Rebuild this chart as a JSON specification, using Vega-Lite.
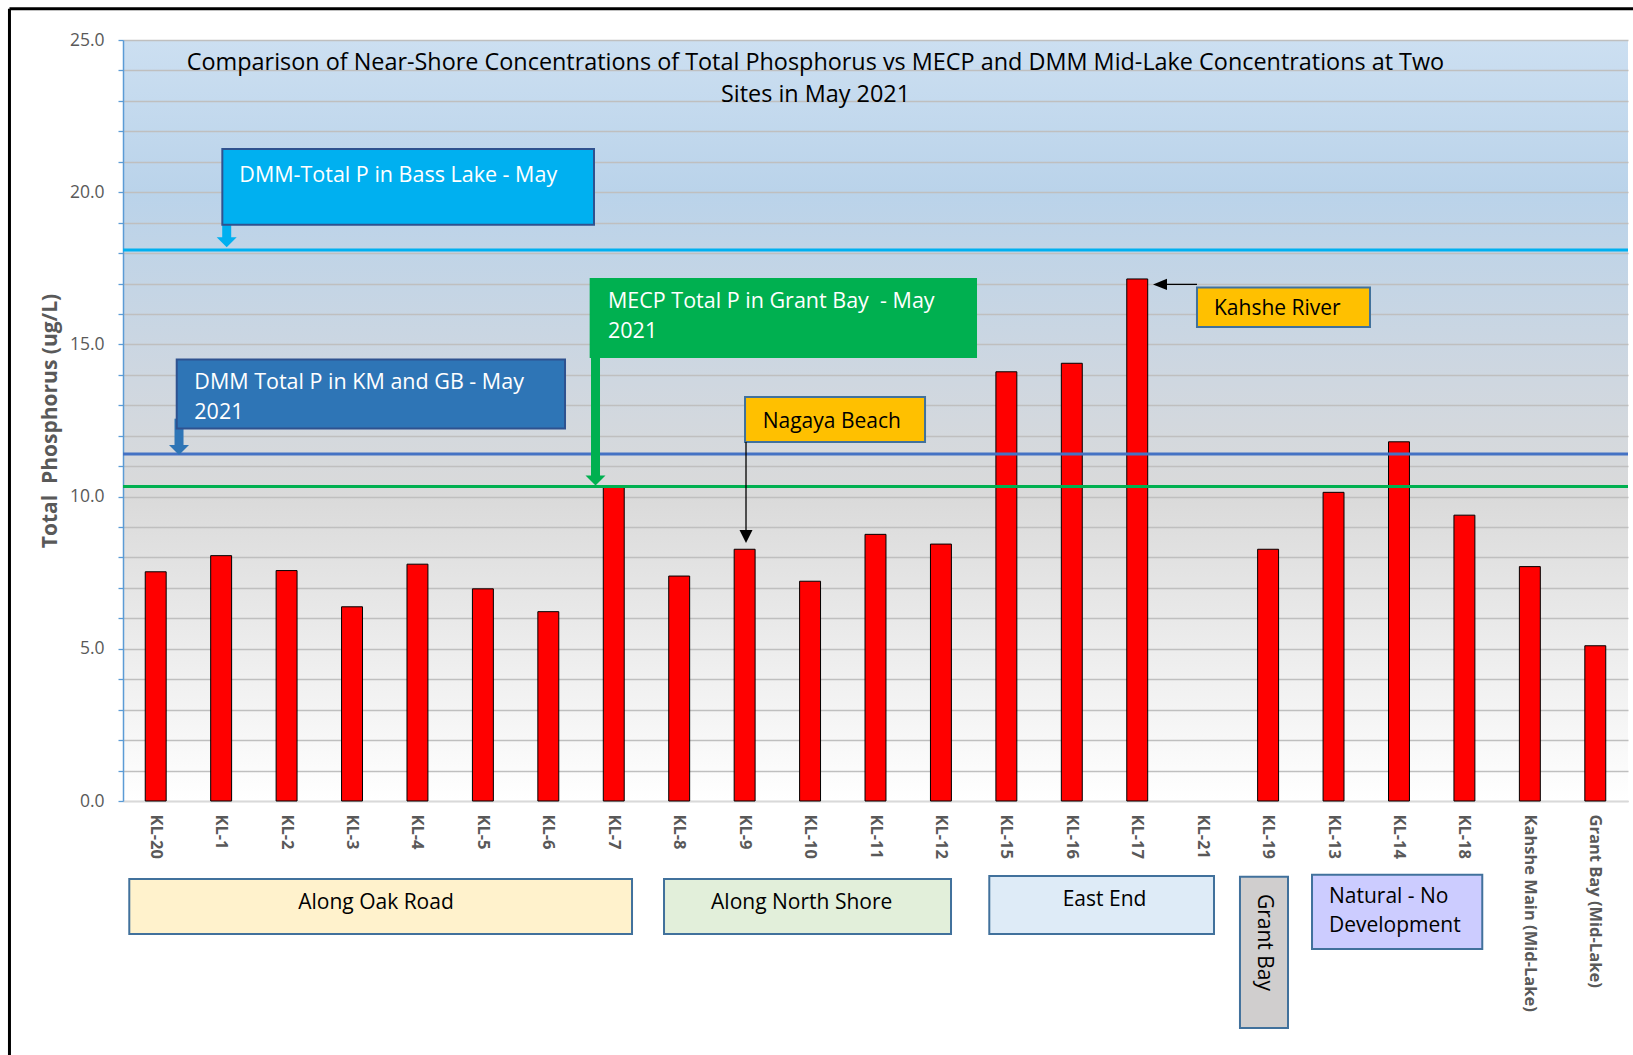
{
  "$schema": "https://vega.github.io/schema/vega-lite/v6.json",
  "width": 1505,
  "height": 761,
  "autosize": {"type": "none"},
  "padding": {"left": 123, "top": 40, "right": 5, "bottom": 254},
  "background": "white",
  "config": {"view": {"stroke": null}, "font": "Open Sans"},
  "view": {
    "stroke": null,
    "fill": {
      "gradient": "linear", "x1": 0, "y1": 0, "x2": 0, "y2": 1,
      "stops": [
        {"offset": 0, "color": "#CCDFF1"},
        {"offset": 0.2, "color": "#BAD3EA"},
        {"offset": 0.45, "color": "#CFD7E0"},
        {"offset": 0.6, "color": "#DADADA"},
        {"offset": 1, "color": "#FFFFFF"}
      ]
    }
  },
  "title": {
    "text": ["Comparison of Near-Shore Concentrations of Total Phosphorus vs MECP and DMM Mid-Lake Concentrations at Two", "Sites in May 2021"],
    "font": "Open Sans", "fontSize": 23.4, "fontWeight": "normal", "color": "#000000",
    "anchor": "middle", "frame": "group", "baseline": "top", "offset": 0, "dx": -60, "dy": 100, "lineHeight": 32
  },
  "datasets": {
    "bars": [
      {"site": "KL-20", "tp": 7.53},
      {"site": "KL-1", "tp": 8.06},
      {"site": "KL-2", "tp": 7.57},
      {"site": "KL-3", "tp": 6.38},
      {"site": "KL-4", "tp": 7.78},
      {"site": "KL-5", "tp": 6.97},
      {"site": "KL-6", "tp": 6.22},
      {"site": "KL-7", "tp": 10.3},
      {"site": "KL-8", "tp": 7.39},
      {"site": "KL-9", "tp": 8.27},
      {"site": "KL-10", "tp": 7.22},
      {"site": "KL-11", "tp": 8.76},
      {"site": "KL-12", "tp": 8.44},
      {"site": "KL-15", "tp": 14.1},
      {"site": "KL-16", "tp": 14.38},
      {"site": "KL-17", "tp": 17.15},
      {"site": "KL-21", "tp": null},
      {"site": "KL-19", "tp": 8.27},
      {"site": "KL-13", "tp": 10.14},
      {"site": "KL-14", "tp": 11.8},
      {"site": "KL-18", "tp": 9.39},
      {"site": "Kahshe Main (Mid-Lake)", "tp": 7.7},
      {"site": "Grant Bay (Mid-Lake)", "tp": 5.1}
    ],
    "refs": [
      {"ref": "DMM-Total P in Bass Lake - May", "tp": 18.1},
      {"ref": "DMM Total P in KM and GB - May 2021", "tp": 11.4},
      {"ref": "MECP Total P in Grant Bay - May 2021", "tp": 10.33}
    ],
    "boxes": [
      {"id": "bass", "x": 1.518, "x2": 7.198, "y": 21.42, "y2": 18.93},
      {"id": "kmgb", "x": 0.821, "x2": 6.755, "y": 14.5, "y2": 12.24},
      {"id": "mecp", "x": 7.147, "x2": 13.036, "y": 17.15, "y2": 14.59},
      {"id": "nagaya", "x": 9.506, "x2": 12.257, "y": 13.27, "y2": 11.79},
      {"id": "kahshe", "x": 16.413, "x2": 19.057, "y": 16.87, "y2": 15.57},
      {"id": "oak", "x": 0.096, "x2": 7.779, "y": -2.562, "y2": -4.369},
      {"id": "north", "x": 8.268, "x2": 12.654, "y": -2.562, "y2": -4.369},
      {"id": "east", "x": 13.239, "x2": 16.673, "y": -2.464, "y2": -4.369},
      {"id": "grant", "x": 17.07, "x2": 17.804, "y": -2.487, "y2": -7.457},
      {"id": "natural", "x": 18.171, "x2": 20.773, "y": -2.421, "y2": -4.862}
    ],
    "wtext": [
      {"t": "DMM-Total P in Bass Lake - May", "x": 1.777, "y": 20.54},
      {"t": ["DMM Total P in KM and GB - May", "2021"], "x": 1.09, "y": 13.72},
      {"t": ["MECP Total P in Grant Bay \u00a0- May", "2021"], "x": 7.412, "y": 16.38}
    ],
    "ltext": [
      {"t": "Nagaya Beach", "x": 9.776, "y": 12.46},
      {"t": "Kahshe River", "x": 16.673, "y": 16.17},
      {"t": ["Natural - No", "Development"], "x": 18.43, "y": -3.16}
    ],
    "ctext": [
      {"t": "Along Oak Road", "x": 3.866, "y": -3.341},
      {"t": "Along North Shore", "x": 10.372, "y": -3.341},
      {"t": "East End", "x": 15.0, "y": -3.25}
    ],
    "rtext": [
      {"t": "Grant Bay", "x": 17.437, "y": -4.648}
    ],
    "shafts": [
      {"id": "bass", "x": 1.585, "y": 18.93, "y2": 18.45},
      {"id": "kmgb", "x": 0.856, "y": 12.56, "y2": 11.62},
      {"id": "mecp", "x": 7.221, "y": 14.59, "y2": 10.62}
    ],
    "heads": [
      {"id": "bass", "x": 1.585, "y": 18.354},
      {"id": "kmgb", "x": 0.856, "y": 11.53},
      {"id": "mecp", "x": 7.221, "y": 10.53}
    ],
    "pointers": [
      {"x": 9.521, "x2": 9.521, "y": 11.79, "y2": 8.8},
      {"x": 15.848, "x2": 16.413, "y": 16.97, "y2": 16.97}
    ],
    "downtips": [{"x": 9.521, "y": 8.69}],
    "lefttips": [{"x": 15.848, "y": 16.97}],
    "frame": [
      {"x": -1.735, "x2": 23.1, "y": 26.03, "y2": 26.03},
      {"x": -1.735, "x2": -1.735, "y": 26.03, "y2": -8.6}
    ]
  },
  "layer": [
    {
      "data": {"name": "bars"},
      "mark": {"type": "bar", "color": "#FF0000", "stroke": "#000000", "strokeWidth": 1},
      "encoding": {
        "x": {
          "field": "site", "type": "nominal", "sort": null,
          "scale": {
            "domain": ["KL-20", "KL-1", "KL-2", "KL-3", "KL-4", "KL-5", "KL-6", "KL-7", "KL-8", "KL-9", "KL-10", "KL-11", "KL-12", "KL-15", "KL-16", "KL-17", "KL-21", "KL-19", "KL-13", "KL-14", "KL-18", "Kahshe Main (Mid-Lake)", "Grant Bay (Mid-Lake)"],
            "paddingInner": 0.68, "paddingOuter": 0.34
          },
          "axis": {
            "title": null, "labelAngle": 90, "labelAlign": "left", "labelBaseline": "middle",
            "ticks": false, "domainColor": "#D9D9D9", "domainWidth": 1.5, "labelPadding": 13,
            "labelColor": "#595959", "labelFont": "Open Sans", "labelFontSize": 16.5, "labelFontWeight": "bold",
            "grid": false, "labelLimit": 0, "labelOverlap": false
          }
        },
        "y": {
          "field": "tp", "type": "quantitative",
          "scale": {"domain": [0, 25], "nice": false},
          "axis": {
            "values": [0,1,2,3,4,5,6,7,8,9,10,11,12,13,14,15,16,17,18,19,20,21,22,23,24,25],
            "labelExpr": "datum.value % 5 === 0 ? format(datum.value, '.1f') : ''",
            "labelOverlap": false,
            "grid": true, "gridColor": "#BFBFBF", "gridWidth": 1.3,
            "tickColor": "#5B9BD5", "tickSize": 5, "tickWidth": 1.3,
            "domainColor": "#5B9BD5", "domainWidth": 1.5,
            "labelColor": "#595959", "labelFont": "Open Sans", "labelFontSize": 17.5, "labelPadding": 14,
            "title": "Total \u00a0Phosphorus (ug/L)", "titleFont": "Open Sans", "titleFontSize": 21,
            "titleFontWeight": "bold", "titleColor": "#595959", "titlePadding": 9
          }
        }
      }
    },
    {
      "data": {"name": "refs"},
      "mark": {"type": "rule", "strokeWidth": 3},
      "encoding": {
        "y": {"field": "tp", "type": "quantitative", "scale": {"domain": [0, 25], "nice": false}, "axis": null},
        "color": {
          "field": "ref", "type": "nominal", "legend": null,
          "scale": {"domain": ["DMM-Total P in Bass Lake - May", "DMM Total P in KM and GB - May 2021", "MECP Total P in Grant Bay - May 2021"], "range": ["#00B0F0", "#4472C4", "#00B050"]}
        }
      }
    },
    {
      "data": {"name": "frame"},
      "mark": {"type": "rule", "strokeWidth": 3, "color": "#000000"},
      "encoding": {
        "x": {"field": "x", "type": "quantitative", "scale": {"domain": [0, 23], "nice": false, "zero": false}, "axis": null},
        "x2": {"field": "x2"},
        "y": {"field": "y", "type": "quantitative", "scale": {"domain": [0, 25], "nice": false}, "axis": null},
        "y2": {"field": "y2"}
      }
    },
    {
      "data": {"name": "shafts"},
      "mark": {"type": "rule", "strokeWidth": 9},
      "encoding": {
        "x": {"field": "x", "type": "quantitative", "scale": {"domain": [0, 23], "nice": false, "zero": false}, "axis": null},
        "y": {"field": "y", "type": "quantitative", "scale": {"domain": [0, 25], "nice": false}, "axis": null},
        "y2": {"field": "y2"},
        "color": {"field": "id", "type": "nominal", "legend": null, "scale": {"domain": ["bass", "kmgb", "mecp"], "range": ["#00B0F0", "#2E75B6", "#00B050"]}}
      }
    },
    {
      "data": {"name": "heads"},
      "mark": {"type": "point", "filled": true, "opacity": 1, "size": 400, "shape": "M-1,-0.5L1,-0.5L0,0.5Z"},
      "encoding": {
        "x": {"field": "x", "type": "quantitative", "scale": {"domain": [0, 23], "nice": false, "zero": false}, "axis": null},
        "y": {"field": "y", "type": "quantitative", "scale": {"domain": [0, 25], "nice": false}, "axis": null},
        "color": {"field": "id", "type": "nominal", "legend": null, "scale": {"domain": ["bass", "kmgb", "mecp"], "range": ["#00B0F0", "#2E75B6", "#00B050"]}}
      }
    },
    {
      "data": {"name": "boxes"},
      "mark": {"type": "rect", "strokeWidth": 2},
      "encoding": {
        "x": {"field": "x", "type": "quantitative", "scale": {"domain": [0, 23], "nice": false, "zero": false}, "axis": null},
        "x2": {"field": "x2"},
        "y": {"field": "y", "type": "quantitative", "scale": {"domain": [0, 25], "nice": false}, "axis": null},
        "y2": {"field": "y2"},
        "fill": {
          "field": "id", "type": "nominal", "legend": null,
          "scale": {"domain": ["bass", "kmgb", "mecp", "nagaya", "kahshe", "oak", "north", "east", "grant", "natural"],
                    "range": ["#00B0F0", "#2E75B6", "#00B050", "#FFC000", "#FFC000", "#FFF2CC", "#E2EFDA", "#DEEBF7", "#D0CECE", "#CCCCFF"]}
        },
        "stroke": {
          "field": "id", "type": "nominal", "legend": null,
          "scale": {"domain": ["bass", "kmgb", "mecp", "nagaya", "kahshe", "oak", "north", "east", "grant", "natural"],
                    "range": ["#2F528F", "#2F528F", "#00B050", "#41719C", "#41719C", "#41719C", "#41719C", "#41719C", "#41719C", "#41719C"]}
        }
      }
    },
    {
      "data": {"name": "pointers"},
      "mark": {"type": "rule", "strokeWidth": 1.3, "color": "#000000"},
      "encoding": {
        "x": {"field": "x", "type": "quantitative", "scale": {"domain": [0, 23], "nice": false, "zero": false}, "axis": null},
        "x2": {"field": "x2"},
        "y": {"field": "y", "type": "quantitative", "scale": {"domain": [0, 25], "nice": false}, "axis": null},
        "y2": {"field": "y2"}
      }
    },
    {
      "data": {"name": "downtips"},
      "mark": {"type": "point", "filled": true, "opacity": 1, "size": 169, "color": "#000000", "shape": "M-1,-1L1,-1L0,1Z"},
      "encoding": {
        "x": {"field": "x", "type": "quantitative", "scale": {"domain": [0, 23], "nice": false, "zero": false}, "axis": null},
        "y": {"field": "y", "type": "quantitative", "scale": {"domain": [0, 25], "nice": false}, "axis": null}
      }
    },
    {
      "data": {"name": "lefttips"},
      "mark": {"type": "point", "filled": true, "opacity": 1, "size": 196, "color": "#000000", "shape": "M1,-0.8L1,0.8L-1,0Z"},
      "encoding": {
        "x": {"field": "x", "type": "quantitative", "scale": {"domain": [0, 23], "nice": false, "zero": false}, "axis": null},
        "y": {"field": "y", "type": "quantitative", "scale": {"domain": [0, 25], "nice": false}, "axis": null}
      }
    },
    {
      "data": {"name": "wtext"},
      "mark": {"type": "text", "align": "left", "baseline": "middle", "font": "Open Sans", "fontSize": 21.5, "color": "#FFFFFF", "lineHeight": 30},
      "encoding": {
        "x": {"field": "x", "type": "quantitative", "scale": {"domain": [0, 23], "nice": false, "zero": false}, "axis": null},
        "y": {"field": "y", "type": "quantitative", "scale": {"domain": [0, 25], "nice": false}, "axis": null},
        "text": {"field": "t"}
      }
    },
    {
      "data": {"name": "ltext"},
      "mark": {"type": "text", "align": "left", "baseline": "middle", "font": "Open Sans", "fontSize": 21, "color": "#000000", "lineHeight": 29},
      "encoding": {
        "x": {"field": "x", "type": "quantitative", "scale": {"domain": [0, 23], "nice": false, "zero": false}, "axis": null},
        "y": {"field": "y", "type": "quantitative", "scale": {"domain": [0, 25], "nice": false}, "axis": null},
        "text": {"field": "t"}
      }
    },
    {
      "data": {"name": "ctext"},
      "mark": {"type": "text", "align": "center", "baseline": "middle", "font": "Open Sans", "fontSize": 21, "color": "#000000"},
      "encoding": {
        "x": {"field": "x", "type": "quantitative", "scale": {"domain": [0, 23], "nice": false, "zero": false}, "axis": null},
        "y": {"field": "y", "type": "quantitative", "scale": {"domain": [0, 25], "nice": false}, "axis": null},
        "text": {"field": "t"}
      }
    },
    {
      "data": {"name": "rtext"},
      "mark": {"type": "text", "align": "center", "baseline": "middle", "angle": 90, "font": "Open Sans", "fontSize": 21, "color": "#000000"},
      "encoding": {
        "x": {"field": "x", "type": "quantitative", "scale": {"domain": [0, 23], "nice": false, "zero": false}, "axis": null},
        "y": {"field": "y", "type": "quantitative", "scale": {"domain": [0, 25], "nice": false}, "axis": null},
        "text": {"field": "t"}
      }
    }
  ],
  "resolve": {"scale": {"x": "independent", "y": "independent", "color": "independent", "fill": "independent", "stroke": "independent"}}
}
